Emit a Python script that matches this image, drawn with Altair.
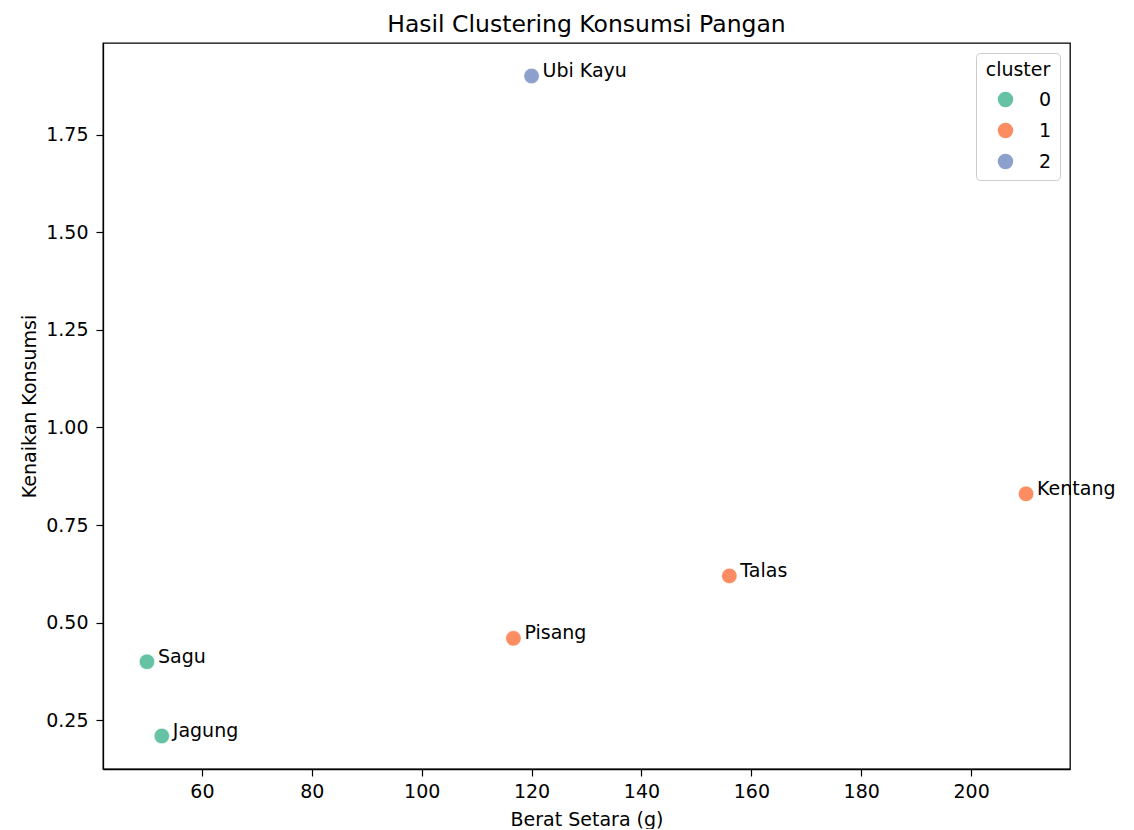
import altair as alt
import pandas as pd

names = ["Sagu", "Jagung", "Pisang", "Ubi Kayu", "Talas", "Kentang"]
berat = [50, 52.7, 116.7, 120, 156, 210]
kenaikan = [0.40, 0.21, 0.46, 1.90, 0.62, 0.83]
cluster = ["0", "0", "1", "2", "1", "1"]

x_ticks = [60, 80, 100, 120, 140, 160, 180, 200]
y_ticks = [0.25, 0.50, 0.75, 1.00, 1.25, 1.50, 1.75]
palette = ["#66c2a5", "#fc8d62", "#8da0cb"]

df = pd.DataFrame({"nama": names, "berat": berat, "kenaikan": kenaikan, "cluster": cluster})

FONT = "DejaVu Sans"

x_enc = alt.X("berat:Q", title="Berat Setara (g)",
              scale=alt.Scale(domain=[42, 218], nice=False, zero=False),
              axis=alt.Axis(values=x_ticks, format="d", grid=False, tickSize=7,
                            labelPadding=6, labelFontSize=19, titleFontSize=19,
                            titleFontWeight="normal", titleBaseline="alphabetic",
                            titleY=56, labelFlush=False))
y_enc = alt.Y("kenaikan:Q", title="Kenaikan Konsumsi",
              scale=alt.Scale(domain=[0.1255, 1.9845], nice=False, zero=False),
              axis=alt.Axis(values=y_ticks, format=".2f", grid=False, tickSize=7,
                            labelPadding=8, labelFontSize=19, titleFontSize=19,
                            titleFontWeight="normal", titleBaseline="alphabetic",
                            titleX=-68, labelFlush=False))

points = alt.Chart(df).mark_circle(size=240, opacity=1, stroke="white", strokeWidth=0.6).encode(
    x=x_enc,
    y=y_enc,
    color=alt.Color("cluster:N", title="cluster",
                    scale=alt.Scale(domain=["0", "1", "2"], range=palette),
                    legend=alt.Legend(orient="none", legendX=873, legendY=10,
                                      titleFontSize=19, titleFontWeight="normal",
                                      labelFontSize=19, symbolSize=240,
                                      symbolType="circle", symbolStrokeWidth=0,
                                      titleAnchor="middle", padding=8,
                                      symbolOffset=12, labelOffset=24,
                                      rowPadding=11, titlePadding=10,
                                      fillColor="white", strokeColor="#cccccc",
                                      cornerRadius=4)),
)

labels = alt.Chart(df).mark_text(align="left", baseline="alphabetic", dx=11, dy=1,
                                 fontSize=19, font=FONT, color="black").encode(
    x="berat:Q", y="kenaikan:Q", text="nama:N"
)

chart = (points + labels).properties(
    width=967, height=726,
    title=alt.TitleParams("Hasil Clustering Konsumsi Pangan", fontSize=23.5,
                          fontWeight="normal", font=FONT, color="black",
                          anchor="middle", baseline="alphabetic", offset=12, dy=24),
    autosize=alt.AutoSizeParams(type="none"),
    padding={"left": 95, "top": 35, "right": 56, "bottom": 60},
).configure(font=FONT).configure_axis(
    domainColor="black", domainWidth=1.3, tickColor="black", tickWidth=1.2,
    labelColor="black", titleColor="black", labelFont=FONT, titleFont=FONT,
).configure_legend(
    labelFont=FONT, titleFont=FONT, labelColor="black", titleColor="black",
).configure_view(stroke="black", strokeWidth=1.3)

chart.save("out.html", embed_options={"renderer": "svg", "actions": False})
